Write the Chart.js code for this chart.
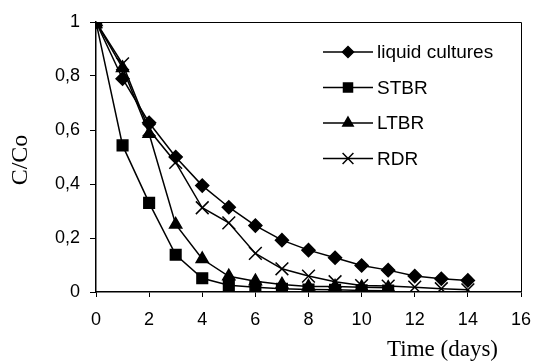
<!DOCTYPE html>
<html>
<head>
<meta charset="utf-8">
<script src="https://cdn.jsdelivr.net/npm/chart.js@4/dist/chart.umd.min.js"></script>
<style>
html,body{margin:0;padding:0;background:#fff;}
#wrap{width:534px;height:361px;position:relative;}
</style>
</head>
<body>
<div id="wrap"><canvas id="c" width="534" height="361"></canvas></div>
<script>
const days = [0,1,2,3,4,5,6,7,8,9,10,11,12,13,14];
const liquidCultures = [1,0.79,0.627,0.50,0.394,0.314,0.246,0.192,0.155,0.127,0.098,0.081,0.059,0.049,0.043];
const stbr = [1,0.543,0.33,0.138,0.051,0.025,0.018,0.012,0.009,0.008,0.006,0.005];
const ltbr = [1,0.83,0.586,0.25,0.122,0.058,0.04,0.028,0.02,0.02,0.018,0.016];
const rdr  = [1,0.845,0.60,0.48,0.312,0.256,0.143,0.086,0.059,0.038,0.024,0.022,0.018,0.012,0.008];
const seriesNames = ['liquid cultures','STBR','LTBR','RDR'];
const yTicks = [0,0.2,0.4,0.6,0.8,1];
const xTicks = [0,2,4,6,8,10,12,14,16];

function pts(vals){ return vals.map((v,i)=>({x:days[i], y:v})); }

const styles = [
  {pointStyle:'rectRot', pointRadius:6.5},
  {pointStyle:'rect', pointRadius:7.5},
  {pointStyle:'triangle', pointRadius:7},
  {pointStyle:'crossRot', pointRadius:9}
];
const allVals = [liquidCultures, stbr, ltbr, rdr];

const datasets = allVals.map((vals,i)=>({
  label: seriesNames[i],
  data: pts(vals),
  borderColor:'#000',
  backgroundColor:'#000',
  pointBackgroundColor:'#000',
  pointBorderColor:'#000',
  borderWidth:1.5,
  pointBorderWidth:1.5,
  pointStyle: styles[i].pointStyle,
  pointRadius: styles[i].pointRadius,
  tension:0,
  fill:false
}));

const frame = {
  id:'frame',
  afterDraw(chart){
    const ctx = chart.ctx, a = chart.chartArea;
    ctx.save();
    ctx.strokeStyle = '#000';
    ctx.lineWidth = 1;
    ctx.beginPath();
    ctx.moveTo(a.left, a.top + 0.5);
    ctx.lineTo(a.right + 0.5, a.top + 0.5);
    ctx.lineTo(a.right + 0.5, a.bottom);
    ctx.stroke();
    // legend
    const lx0 = 323, lx1 = 373, ly0 = 52, dy = 35.5;
    ctx.font = '19px "Liberation Sans", Arial, sans-serif';
    ctx.textBaseline = 'middle';
    ctx.textAlign = 'left';
    chart.data.datasets.forEach((ds,i)=>{
      const y = ly0 + i*dy;
      ctx.strokeStyle = '#000';
      ctx.fillStyle = '#000';
      ctx.lineWidth = 1.5;
      ctx.beginPath();
      ctx.moveTo(lx0, y); ctx.lineTo(lx1, y); ctx.stroke();
      Chart.helpers.drawPoint(ctx, {pointStyle: ds.pointStyle, radius: ds.pointRadius*0.85, rotation:0, borderWidth:1.5}, (lx0+lx1)/2, y);
      ctx.fillStyle = '#000';
      ctx.fillText(ds.label, 377, y + 1);
    });
    // axis titles
    ctx.fillStyle = '#000';
    ctx.font = '23px "Liberation Serif", "Times New Roman", serif';
    ctx.textAlign = 'right';
    ctx.textBaseline = 'middle';
    ctx.fillText('Time (days)', 498, 350);
    ctx.translate(21, 160);
    ctx.rotate(-Math.PI/2);
    ctx.textAlign = 'center';
    ctx.font = '24px "Liberation Serif", "Times New Roman", serif';
    ctx.fillText('C/Co', 0, 0);
    ctx.restore();
  }
};

new Chart(document.getElementById('c'), {
  type:'line',
  data:{ datasets },
  options:{
    responsive:false,
    animation:false,
    devicePixelRatio:1,
    layout:{ padding:{ top:22, right:0, left:0, bottom:0 } },
    plugins:{ legend:{display:false}, tooltip:{enabled:false} },
    scales:{
      x:{
        type:'linear', min:0, max:16,
        afterBuildTicks(s){ s.ticks = xTicks.map(v=>({value:v})); },
        afterFit(s){ s.height = 69; s.paddingRight = 13; s.paddingLeft = 0; },
        ticks:{ color:'#000', font:{family:'"Liberation Sans", Arial, sans-serif', size:18}, padding:12, maxRotation:0, autoSkip:false },
        grid:{ drawOnChartArea:false, drawTicks:true, tickLength:5, color:'#000', lineWidth:1 },
        border:{ display:true, color:'#000', width:1.5 }
      },
      y:{
        type:'linear', min:0, max:1,
        afterBuildTicks(s){ s.ticks = yTicks.map(v=>({value:v})); },
        afterFit(s){ s.width = 96; s.paddingTop = 0; s.paddingBottom = 0; },
        ticks:{ color:'#000', font:{family:'"Liberation Sans", Arial, sans-serif', size:18}, padding:10,
          callback:(v)=> String(Math.round(v*10)/10).replace('.', ',') },
        grid:{ drawOnChartArea:false, drawTicks:true, tickLength:6, color:'#000', lineWidth:1 },
        border:{ display:true, color:'#000', width:1.5 }
      }
    }
  },
  plugins:[frame]
});
</script>
</body>
</html>
